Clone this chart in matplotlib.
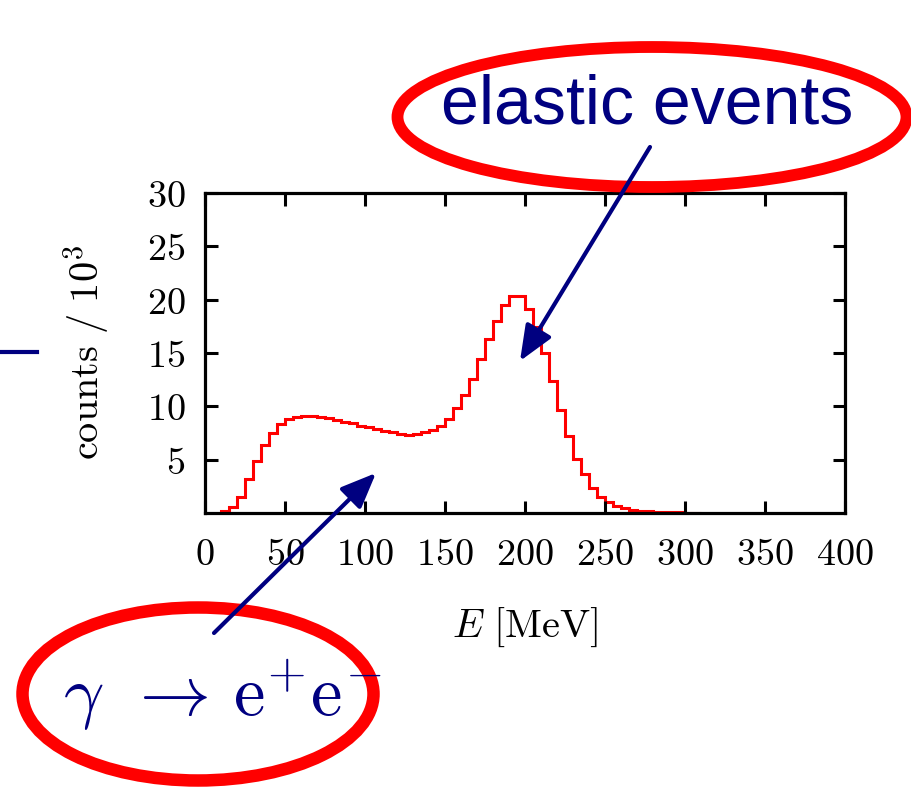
import numpy as np
import matplotlib
matplotlib.use('Agg')
import matplotlib.pyplot as plt
from matplotlib.patches import Ellipse, FancyArrowPatch
from matplotlib.lines import Line2D

plt.rcParams['mathtext.fontset'] = 'cm'

# histogram, 5 MeV bins from 10 to 310 MeV (counts / 10^3)
bin_edges = np.arange(10, 315, 5)
counts = [0.15, 0.55, 1.5, 3.2, 4.9, 6.4, 7.5, 8.3, 8.8, 9.0,
          9.05, 9.05, 9.0, 8.9, 8.75, 8.55, 8.4, 8.2, 8.05, 7.9,
          7.7, 7.55, 7.4, 7.35, 7.4, 7.55, 7.8, 8.2, 8.8, 9.8,
          11.1, 12.6, 14.4, 16.3, 18.0, 19.5, 20.3, 20.3, 19.1, 17.4,
          15.0, 12.4, 9.65, 7.25, 5.1, 3.65, 2.3, 1.5, 1.0, 0.7,
          0.45, 0.28, 0.2, 0.2, 0.1, 0.1, 0.1, 0.1, 0.04, 0.03]

xticks = [0, 50, 100, 150, 200, 250, 300, 350, 400]
yticks = [5, 10, 15, 20, 25, 30]

W, H = 912, 788
navy = '#000080'


def fx(x):
    return x / W


def fy(y):
    return 1 - y / H


fig = plt.figure(figsize=(W / 100, H / 100), dpi=100)
ax = fig.add_axes([fx(205), fy(513), (845 - 205) / W, (513 - 193) / H])

ax.stairs(counts, bin_edges, color='red', linewidth=2.2)

ax.set_xlim(0, 400)
ax.set_ylim(0, 30)
ax.set_xticks(xticks)
ax.set_yticks(yticks)
ax.set_xticklabels(['$%d$' % t for t in xticks])
ax.set_yticklabels(['$%d$' % t for t in yticks])
ax.tick_params(direction='in', length=9, width=2.2, labelsize=27.5,
               top=True, right=True)
ax.tick_params(axis='x', pad=17)
ax.tick_params(axis='y', pad=14)
for s in ax.spines.values():
    s.set_linewidth(2.3)

ax.set_xlabel(r'$E\ [\mathrm{MeV}]$', fontsize=29, labelpad=24)
ax.set_ylabel(r'$\mathrm{counts}\ /\ 10^3$', fontsize=29, labelpad=26)

# annotations drawn on the whole figure (pixel positions)
e1 = Ellipse((fx(652), fy(117)), 509 / W, 140 / H, transform=fig.transFigure,
             fill=False, edgecolor='red', linewidth=8.5, zorder=5)
e2 = Ellipse((fx(198), fy(694)), 351 / W, 173 / H, transform=fig.transFigure,
             fill=False, edgecolor='red', linewidth=9, zorder=5)
fig.patches.extend([e1, e2])

fig.text(fx(647), fy(106), 'elastic events', family='Liberation Sans',
         fontsize=49, color=navy, ha='center', va='center', zorder=6)
fig.text(fx(222), fy(695),
         r'$\gamma\;\,\rightarrow\,\mathrm{e}^{+}\mathrm{e}^{-}$',
         fontsize=51, color=navy, ha='center', va='center', zorder=6)

a1 = FancyArrowPatch((fx(650), fy(147)), (fx(520), fy(361)),
                     transform=fig.transFigure,
                     arrowstyle='-|>,head_length=0.6,head_width=0.25',
                     mutation_scale=36, color=navy, linewidth=3,
                     shrinkA=0, shrinkB=0, zorder=7)
a2 = FancyArrowPatch((fx(214), fy(633)), (fx(376), fy(473)),
                     transform=fig.transFigure,
                     arrowstyle='-|>,head_length=0.6,head_width=0.25',
                     mutation_scale=36, color=navy, linewidth=3,
                     shrinkA=0, shrinkB=0, zorder=7)
fig.patches.extend([a1, a2])

fig.lines.append(Line2D([fx(0), fx(37)], [fy(352), fy(352)],
                        transform=fig.transFigure, color=navy, linewidth=3))

fig.savefig('out.png', dpi=100)
